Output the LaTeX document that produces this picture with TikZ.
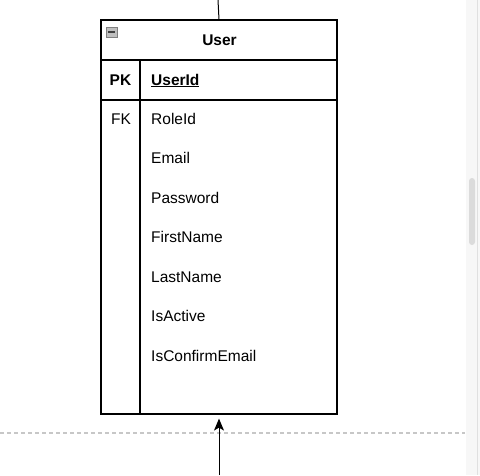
\documentclass[tikz,border=0pt]{standalone}
\usepackage{fontspec}
\setmainfont{Liberation Sans}
\usetikzlibrary{positioning}
\usetikzlibrary{arrows, arrows.meta}
\tikzstyle{entity} = [draw=black, line width=1.2pt, minimum width=236pt, minimum height=394pt, inner sep=0pt]
\tikzstyle{field} = [anchor=base west, inner sep=0pt, font=\fontsize{15.5}{18}\selectfont]
\tikzstyle{key} = [anchor=base, inner sep=0pt, font=\fontsize{15.5}{18}\selectfont]
\tikzstyle{arrow} = [line width=1pt,-{Stealth[length=12pt,width=10pt,inset=3pt]}]
\tikzstyle{rule} = [line width=1.2pt]

\begin{document}
\begin{tikzpicture}[x=1pt,y=-1pt]
    \useasboundingbox (0,0) rectangle (480,475);
    % side bar of the window
    \fill[black!3] (466,0) rectangle (480,475);
    \draw[black!12] (477,0) -- (477,475);
    \fill[black!14, rounded corners=3pt] (469,178) rectangle (475,245);
    \draw[black!22, line width=1.2pt, dash pattern=on 4pt off 3pt] (0,433) -- (465,433);
    % table
    \node[entity] (user) at (219,217) {};
    \draw[rule] (101,60) -- (337,60);
    \draw[rule] (101,100) -- (337,100);
    \draw[rule] (140,60) -- (140,414);
    \node[draw=black!50, fill=black!25, minimum width=11pt, minimum height=10pt, inner sep=0pt] (icon) at (111.8,32) {};
    \draw[black!75, line width=1.2pt] ([xshift=-3.5pt]icon.center) -- ([xshift=3.5pt]icon.center);
    \node[key, font=\fontsize{15.5}{18}\selectfont\bfseries] (title) at (219.5,45.5) {User};
    \node[key, font=\fontsize{15.5}{18}\selectfont\bfseries] (pk) at (120.5,85) {PK};
    \node[field, font=\fontsize{15.5}{18}\selectfont\bfseries] (userid) at (151,85) {\underline{UserId}};
    \node[key] (fk) at (121,124) {FK};
    \foreach \name [count=\i from 0] in {RoleId,Email,Password,FirstName,LastName,IsActive,IsConfirmEmail}
        \node[field] (f\i) at (151,124+39.5*\i) {\name};
    % connectors
    \coordinate (topend) at (218,0);
    \coordinate (botend) at (219,475);
    \path [-, line width=1pt] (topend) edge (user.north);
    \draw[arrow, shorten >=4pt] (botend) -- (user.south);
\end{tikzpicture}
\end{document}
